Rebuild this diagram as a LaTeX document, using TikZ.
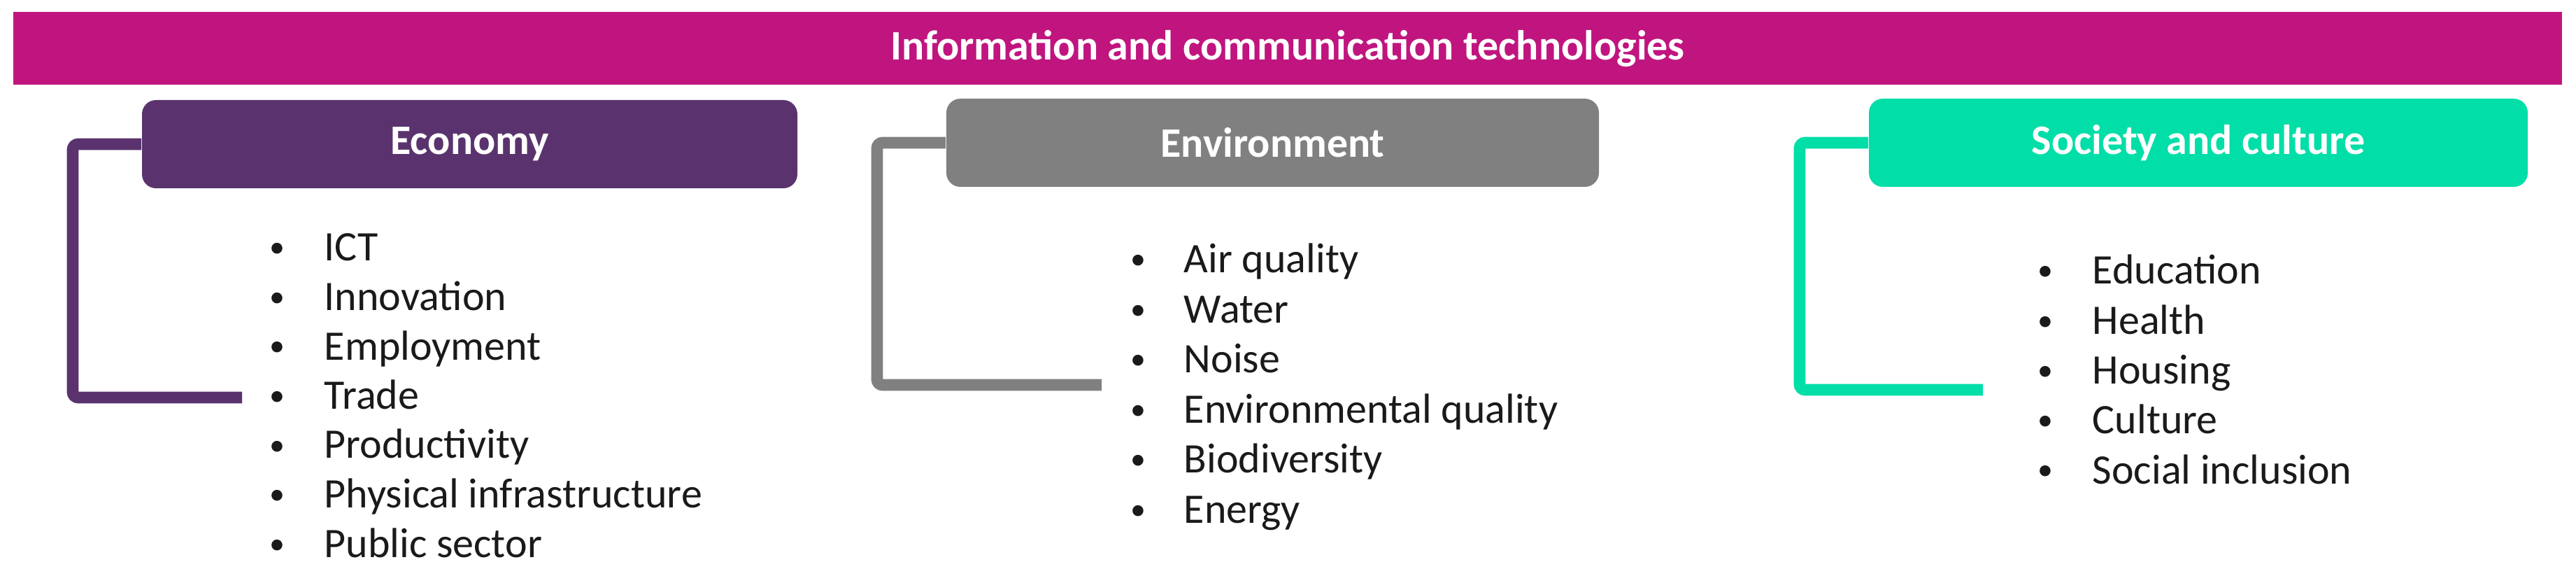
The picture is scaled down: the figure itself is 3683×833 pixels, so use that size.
\documentclass[tikz,border=0pt]{standalone}
\usepackage{fontspec}
\setmainfont{Carlito}
\definecolor{ictmag}{HTML}{C0157F}
\definecolor{ecopur}{HTML}{5A336E}
\definecolor{envgray}{HTML}{808080}
\definecolor{socgreen}{HTML}{02DEA7}
\definecolor{itemtext}{HTML}{1A1A1A}
\begin{document}
\begin{tikzpicture}[x=0.25pt,y=-0.25pt,
  topbar/.style={fill=ictmag, minimum width=911pt, minimum height=26pt, inner sep=0pt, text=white, font=\fontsize{15pt}{18pt}\selectfont\bfseries},
  hdr/.style={rounded corners=5pt, minimum height=31.5pt, inner sep=0pt, text=white, font=\fontsize{15pt}{18pt}\selectfont\bfseries},
  itemtxt/.style={anchor=base west, inner sep=0pt, text=itemtext, font=\fontsize{15pt}{18pt}\selectfont},
  bul/.style={anchor=base, inner sep=0pt, text=itemtext, font=\fontsize{11pt}{13pt}\selectfont},
  brk/.style={line width=4.2pt, rounded corners=2pt}]
\useasboundingbox (0,0) rectangle (3683,833);

\node[topbar] (ict) at (1841,69) {Information and communication technologies};

% Economy
\node[hdr, fill=ecopur, minimum width=234.25pt] (eco) at (671.5,206) {Economy};
\coordinate (ecoc) at (104,568);
\coordinate (ecoend) at (346,568);
\draw[brk, ecopur] (eco.west) -| (ecoc) -- (ecoend);
\foreach \t [count=\i from 0] in {ICT,Innovation,Employment,Trade,Productivity,Physical infrastructure,Public sector}{
  \node[bul] (eb\i) at (396,{368+70.5*\i}) {•};
  \node[itemtxt] (et\i) at (463,{373+70.5*\i}) {\t};
}

% Environment
\node[hdr, fill=envgray, minimum width=233.25pt] (env) at (1819.5,204) {Environment};
\coordinate (envc) at (1254,550);
\coordinate (envend) at (1575,550);
\draw[brk, envgray] (env.west) -| (envc) -- (envend);
\foreach \t [count=\i from 0] in {Air quality,Water,Noise,Environmental quality,Biodiversity,Energy}{
  \node[bul] (vb\i) at (1627,{385+71.4*\i}) {•};
  \node[itemtxt] (vt\i) at (1692,{390+71.4*\i}) {\t};
}

% Society and culture
\node[hdr, fill=socgreen, minimum width=235.5pt] (soc) at (3143,204) {Society and culture};
\coordinate (socc) at (2573,557);
\coordinate (socend) at (2835,557);
\draw[brk, socgreen] (soc.west) -| (socc) -- (socend);
\foreach \t [count=\i from 0] in {Education,Health,Housing,Culture,Social inclusion}{
  \node[bul] (sb\i) at (2924,{401+71.25*\i}) {•};
  \node[itemtxt] (st\i) at (2991,{406+71.25*\i}) {\t};
}
\end{tikzpicture}
\end{document}
